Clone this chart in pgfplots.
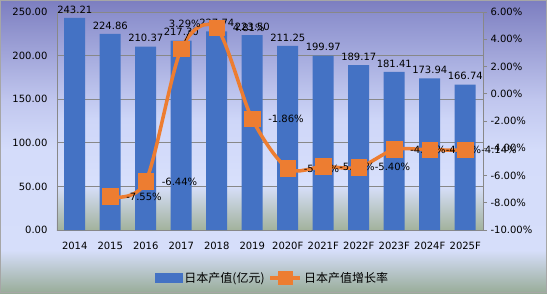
\documentclass[border=0pt]{standalone}
\usepackage{fontspec}
\setmainfont{DejaVu Sans}
\newfontfamily\cjk{Noto Sans CJK SC}
\usepackage{pgfplots}
\pgfplotsset{compat=1.18}
\usepackage{pgfplotstable}
\pgfkeys{/pgf/number format/assume math mode=true}

\definecolor{barblue}{HTML}{4472C4}
\definecolor{orangec}{HTML}{ED7D31}
\definecolor{gridc}{HTML}{888888}
\definecolor{cbg0}{HTML}{98AC98}
\definecolor{cbg1}{HTML}{D6DEFA}
\definecolor{cbg2}{HTML}{D4DCFA}
\definecolor{cbg3}{HTML}{C0C6EE}
\definecolor{cbg4}{HTML}{7C7EC0}
\definecolor{pbg0}{HTML}{A2B29C}
\definecolor{pbg1}{HTML}{D8E0FC}
\definecolor{pbg2}{HTML}{CED6F8}
\definecolor{pbg3}{HTML}{8A8ECC}

\pgfdeclareverticalshading{chartbg}{100bp}{color(0bp)=(cbg0); color(25bp)=(cbg0); color(32.3bp)=(cbg1); color(49.4bp)=(cbg2); color(58bp)=(cbg3); color(75bp)=(cbg4); color(100bp)=(cbg4)}
\pgfdeclareverticalshading{plotbg}{100bp}{color(0bp)=(pbg0); color(25bp)=(pbg0); color(35.3bp)=(pbg1); color(50.2bp)=(pbg2); color(75bp)=(pbg3); color(100bp)=(pbg3)}

\pgfplotstableread{
x val
0 243.21
1 224.86
2 210.37
3 217.30
4 227.74
5 223.50
6 211.25
7 199.97
8 189.17
9 181.41
10 173.94
11 166.74
}\bardata

\pgfplotstableread{
x val lab
1 -7.55 -7.55\%
2 -6.44 -6.44\%
3 3.29 {}
4 4.81 4.81\%
5 -1.86 -1.86\%
6 -5.48 -5.48\%
7 -5.34 -5.34\%
8 -5.40 -5.40\%
9 -4.10 -4.10\%
10 -4.12 -4.12\%
11 -4.14 -4.14\%
}\ratedata

\begin{document}
\begin{tikzpicture}[font=\fontsize{10}{12}\selectfont]
\shade[shading=chartbg] (-57pt,-63pt) rectangle (490pt,230pt);
\draw[gray!70, line width=0.8pt] (-56.6pt,-62.6pt) rectangle (489.6pt,229.6pt);
\shade[shading=plotbg] (0pt,0pt) rectangle (426pt,218pt);
\begin{axis}[
  at={(0pt,0pt)}, anchor=south west, scale only axis,
  width=426pt, height=218pt,
  xmin=-0.5, xmax=11.5, ymin=0, ymax=250,
  xtick={0,...,11},
  xticklabels={2014,2015,2016,2017,2018,2019,2020F,2021F,2022F,2023F,2024F,2025F},
  ytick={0,50,...,250},
  yticklabel={\pgfmathprintnumber[fixed,fixed zerofill,precision=2]{\tick}},
  ymajorgrids, grid style={draw=gridc, line width=0.8pt},
  axis line style={draw=gridc, line width=0.8pt},
  major tick length=0pt,
  tick label style={font=\fontsize{10}{12}\selectfont, text=black},
  xticklabel style={yshift=-9pt},
  yticklabel style={xshift=-6pt},
  clip=false,
]
\addplot[ybar, bar width=21pt, fill=barblue, draw=none,
  nodes near coords={\pgfmathprintnumber[fixed,fixed zerofill,precision=2]{\pgfplotspointmeta}},
  point meta=y,
  every node near coord/.append style={font=\fontsize{10}{12}\selectfont, text=black, yshift=1pt}]
  table[x=x,y=val]{\bardata};
\end{axis}
\begin{axis}[
  at={(0pt,0pt)}, anchor=south west, scale only axis,
  width=426pt, height=218pt,
  xmin=-0.5, xmax=11.5, ymin=-10, ymax=6,
  axis x line=none, axis y line*=right,
  y axis line style={draw=gridc, line width=0.8pt, -},
  ytick={-10,-8,-6,-4,-2,0,2,4,6},
  yticklabel={\pgfmathprintnumber[fixed,fixed zerofill,precision=2]{\tick}\%},
  tick align=outside, major tick length=4pt,
  tick style={draw=gridc, line width=0.8pt},
  tick label style={font=\fontsize{10}{12}\selectfont, text=black},
  yticklabel style={xshift=0pt},
  legend style={at={(0.506,-0.22)}, anchor=center, draw=none, fill=none,
    legend columns=2, font=\cjk\fontsize{12}{14}\selectfont,
    /tikz/every even column/.append style={column sep=2pt}},
  clip=false,
]
\addlegendimage{legend image code/.code={\fill[barblue] (0pt,-4.5pt) rectangle (27pt,4.5pt);}}
\addlegendentry{日本产值(亿元)}
\addplot[smooth, color=orangec, line width=3.5pt,
  mark=square*, mark size=6.5pt, mark options={solid, fill=orangec, draw=none},
  nodes near coords, point meta=explicit symbolic,
  every node near coord/.append style={anchor=west, xshift=11pt, font=\fontsize{10}{12}\selectfont, text=black},
  legend image code/.code={\draw[orangec, line width=3.5pt] (0pt,0pt) -- (30pt,0pt); \fill[orangec] (9pt,-5pt) rectangle (21pt,5pt);}]
  table[x=x,y=val,meta=lab]{\ratedata};
\addlegendentry{日本产值增长率}
\node[font=\fontsize{10}{12}\selectfont, text=black] at (axis cs:3.1,5.12) {3.29\%};
\draw[black, line width=0.6pt] (axis cs:3.246,4.68) -- (axis cs:3.02,3.45);
\end{axis}
\end{tikzpicture}
\end{document}
